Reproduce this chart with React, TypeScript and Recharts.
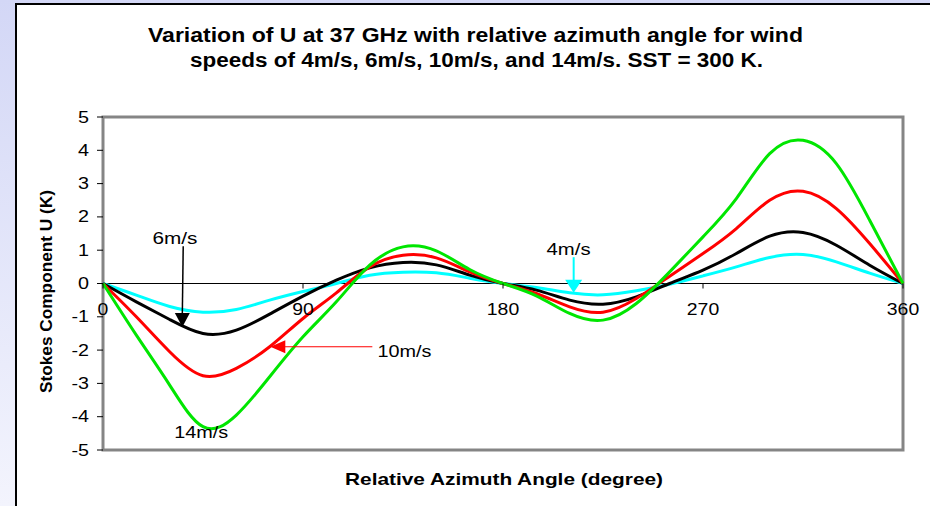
import {
  LineChart,
  Line,
  XAxis,
  YAxis,
  ReferenceLine,
  ReferenceArea,
  ReferenceDot,
} from 'recharts';

// relative azimuth angle (degree)
const angles = [0, 15, 30, 45, 60, 75, 90, 105, 120, 135, 150, 165, 180, 195, 210, 225, 240, 255, 270, 285, 300, 315, 330, 345, 360];

// Stokes U (K) at 37 GHz, one array per wind speed
const u4 = [0, -0.35, -0.69, -0.86, -0.78, -0.5, -0.24, 0.0, 0.25, 0.34, 0.32, 0.16, 0, -0.12, -0.28, -0.34, -0.22, -0.02, 0.23, 0.5, 0.78, 0.87, 0.65, 0.31, 0];
const u6 = [0, -0.55, -1.08, -1.5, -1.4, -0.92, -0.38, 0.1, 0.47, 0.63, 0.56, 0.25, 0, -0.2, -0.5, -0.62, -0.4, 0.0, 0.4, 0.9, 1.42, 1.53, 1.15, 0.55, 0];
const u10 = [0, -1.0, -2.05, -2.77, -2.55, -1.9, -1.05, -0.28, 0.5, 0.85, 0.77, 0.35, 0, -0.3, -0.7, -0.86, -0.45, 0.22, 0.9, 1.65, 2.5, 2.77, 2.25, 1.2, 0];
const u14 = [0, -1.55, -3.05, -4.3, -3.95, -2.8, -1.6, -0.55, 0.55, 1.1, 0.98, 0.42, 0, -0.37, -0.9, -1.1, -0.6, 0.35, 1.4, 2.55, 3.9, 4.3, 3.6, 1.9, 0];

const xTicks = [0, 90, 180, 270, 360];
const yTicks = [5, 4, 3, 2, 1, 0, -1, -2, -3, -4, -5];

const data = angles.map((a, i) => ({
  angle: a,
  u4: u4[i],
  u6: u6[i],
  u10: u10[i],
  u14: u14[i],
}));

const FONT = '"Liberation Sans", Arial, sans-serif';

function YTick(props: any) {
  const { x, y, payload } = props;
  const s = String(payload.value);
  return (
    <text
      x={x}
      y={y}
      dy={5.5}
      textAnchor="end"
      fontFamily={FONT}
      fontSize={16}
      fill="#000"
      textLength={s.length > 1 ? 17.5 : 11}
      lengthAdjust="spacingAndGlyphs"
    >
      {s}
    </text>
  );
}

const xTick = (label: string) => (props: any) => {
  const { cx, cy } = props;
  return (
    <g>
      <line x1={cx} y1={cy} x2={cx} y2={cy + 5} stroke="#000" strokeWidth={1} />
      <text
        x={cx}
        y={cy + 31.5}
        textAnchor="middle"
        fontFamily={FONT}
        fontSize={17}
        fill="#000"
        textLength={label.length * 10.8}
        lengthAdjust="spacingAndGlyphs"
      >
        {label}
      </text>
    </g>
  );
};

const note = (label: string, len: number, anchor: 'start' | 'middle') => (props: any) => (
  <text
    x={props.cx}
    y={props.cy}
    textAnchor={anchor}
    fontFamily={FONT}
    fontSize={16}
    fill="#000"
    textLength={len}
    lengthAdjust="spacingAndGlyphs"
  >
    {label}
  </text>
);

const headDown = (color: string, w: number, h: number) => (props: any) => {
  const { cx, cy } = props;
  return <polygon points={`${cx - w / 2},${cy - h} ${cx + w / 2},${cy - h} ${cx},${cy}`} fill={color} />;
};

const headLeft = (color: string, w: number, h: number) => (props: any) => {
  const { cx, cy } = props;
  return <polygon points={`${cx + w},${cy - h / 2} ${cx + w},${cy + h / 2} ${cx},${cy}`} fill={color} />;
};

export default function App() {
  return (
    <div
      style={{
        position: 'absolute',
        left: 0,
        top: 0,
        width: 930,
        height: 506,
        overflow: 'hidden',
        background: 'linear-gradient(to bottom, #d3d7f6, #f3f4fd)',
      }}
    >
      <div
        style={{
          position: 'absolute',
          left: 15,
          top: 3,
          right: 0,
          bottom: 0,
          background: '#fff',
          borderLeft: '2px solid #000',
          borderTop: '2px solid #000',
        }}
      />
      <LineChart
        width={930}
        height={506}
        data={data}
        margin={{ top: 117, right: 27, bottom: 56, left: 43 }}
        style={{ position: 'absolute', left: 0, top: 0 }}
      >
        <XAxis dataKey="angle" type="number" domain={[0, 360]} ticks={xTicks} hide />
        <YAxis
          type="number"
          domain={[-5, 5]}
          ticks={yTicks}
          interval={0}
          width={60}
          axisLine={false}
          tickLine={{ stroke: '#000' }}
          tickSize={6}
          tickMargin={8}
          tick={<YTick />}
        />
        <ReferenceArea x1={0} x2={360} y1={-5} y2={5} fill="none" fillOpacity={0} stroke="#858585" strokeWidth={3} ifOverflow="visible" />
        <ReferenceLine y={0} stroke="#000" strokeWidth={1} />
        {xTicks.map((t) => (
          <ReferenceDot key={t} x={t} y={0} ifOverflow="visible" shape={xTick(String(t))} />
        ))}

        <Line type="natural" dataKey="u4" stroke="#00ffff" strokeWidth={3} dot={false} activeDot={false} isAnimationActive={false} />
        <Line type="natural" dataKey="u6" stroke="#000000" strokeWidth={3} dot={false} activeDot={false} isAnimationActive={false} />
        <Line type="natural" dataKey="u10" stroke="#ff0000" strokeWidth={3} dot={false} activeDot={false} isAnimationActive={false} />
        <Line type="natural" dataKey="u14" stroke="#00e600" strokeWidth={3} dot={false} activeDot={false} isAnimationActive={false} />

        {/* 6m/s callout */}
        <ReferenceLine segment={[{ x: 36.1, y: 1.12 }, { x: 35.7, y: -0.9 }]} stroke="#000" strokeWidth={1.5} ifOverflow="visible" />
        <ReferenceDot x={35.7} y={-1.31} ifOverflow="visible" shape={headDown('#000', 15, 14)} />
        <ReferenceDot x={32.4} y={1.2} ifOverflow="visible" shape={note('6m/s', 45, 'middle')} />

        {/* 10m/s callout */}
        <ReferenceLine segment={[{ x: 121.2, y: -1.9 }, { x: 81, y: -1.9 }]} stroke="#ff0000" strokeWidth={1.2} ifOverflow="visible" />
        <ReferenceDot x={75.3} y={-1.9} ifOverflow="visible" shape={headLeft('#ff0000', 15, 13)} />
        <ReferenceDot x={123.5} y={-2.21} ifOverflow="visible" shape={note('10m/s', 54, 'start')} />

        {/* 4m/s callout */}
        <ReferenceLine segment={[{ x: 211.8, y: 0.79 }, { x: 211.8, y: 0.1 }]} stroke="#00ffff" strokeWidth={2} ifOverflow="visible" />
        <ReferenceDot x={211.8} y={-0.28} ifOverflow="visible" shape={headDown('#00ffff', 17, 13)} />
        <ReferenceDot x={209.5} y={0.85} ifOverflow="visible" shape={note('4m/s', 44, 'middle')} />

        {/* 14m/s label */}
        <ReferenceDot x={44.2} y={-4.65} ifOverflow="visible" shape={note('14m/s', 54, 'middle')} />
      </LineChart>

      <svg
        width={930}
        height={506}
        style={{ position: 'absolute', left: 0, top: 0, pointerEvents: 'none' }}
      >
        <text x={475.5} y={42} textAnchor="middle" fontFamily={FONT} fontWeight="bold" fontSize={20} textLength={655} lengthAdjust="spacingAndGlyphs">
          Variation of U at 37 GHz with relative azimuth angle for wind
        </text>
        <text x={476.5} y={66.5} textAnchor="middle" fontFamily={FONT} fontWeight="bold" fontSize={20} textLength={573} lengthAdjust="spacingAndGlyphs">
          speeds of 4m/s, 6m/s, 10m/s, and 14m/s. SST = 300 K.
        </text>
        <text x={504} y={484.5} textAnchor="middle" fontFamily={FONT} fontWeight="bold" fontSize={17} textLength={318} lengthAdjust="spacingAndGlyphs">
          Relative Azimuth Angle (degree)
        </text>
        <text
          x={52}
          y={291.5}
          textAnchor="middle"
          fontFamily={FONT}
          fontWeight="bold"
          fontSize={17}
          textLength={203}
          lengthAdjust="spacingAndGlyphs"
          transform="rotate(-90 52 291.5)"
        >
          Stokes Component U (K)
        </text>
      </svg>
    </div>
  );
}
